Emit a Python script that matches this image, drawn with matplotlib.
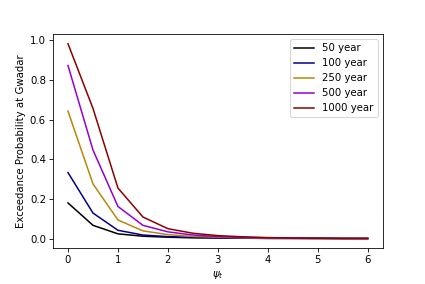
import numpy as np
import matplotlib
matplotlib.use('Agg')
import matplotlib.pyplot as plt

# return-period curves, exceedance probability vs psi_t
psi_t = [0.0, 0.5, 1.0, 1.5, 2.0, 2.5, 3.0, 3.5, 4.0, 4.5, 5.0, 5.5, 6.0]

p_50 = [0.180, 0.067, 0.024, 0.012, 0.007, 0.004, 0.003, 0.002, 0.001, 0.001, 0.0005, 0.0003, 0.0002]
p_100 = [0.333, 0.129, 0.042, 0.018, 0.010, 0.006, 0.004, 0.002, 0.0015, 0.001, 0.0007, 0.0004, 0.0003]
p_250 = [0.643, 0.276, 0.094, 0.039, 0.020, 0.011, 0.007, 0.004, 0.003, 0.002, 0.001, 0.0007, 0.0005]
p_500 = [0.873, 0.447, 0.162, 0.067, 0.034, 0.018, 0.010, 0.006, 0.004, 0.003, 0.002, 0.001, 0.0007]
p_1000 = [0.983, 0.657, 0.255, 0.109, 0.050, 0.027, 0.015, 0.009, 0.005, 0.003, 0.002, 0.001, 0.0008]

series = [p_50, p_100, p_250, p_500, p_1000]
labels = ['50 year', '100 year', '250 year', '500 year', '1000 year']
colors = ['black', 'darkblue', 'darkgoldenrod', 'darkviolet', 'darkred']

dpi = 73
fig, ax = plt.subplots(figsize=(425 / dpi, 284 / dpi))
fig.subplots_adjust(left=53 / 425, right=382.7 / 425, top=1 - 34 / 284, bottom=1 - 248.3 / 284)
for y, lab, col in zip(series, labels, colors):
    ax.plot(psi_t, y, color=col, label=lab)

ax.set_xlabel(r'$\psi_t$')
ax.set_ylabel('Exceedance Probability at Gwadar')
ax.legend(loc='upper right')

fig.savefig('out.png', dpi=dpi)
